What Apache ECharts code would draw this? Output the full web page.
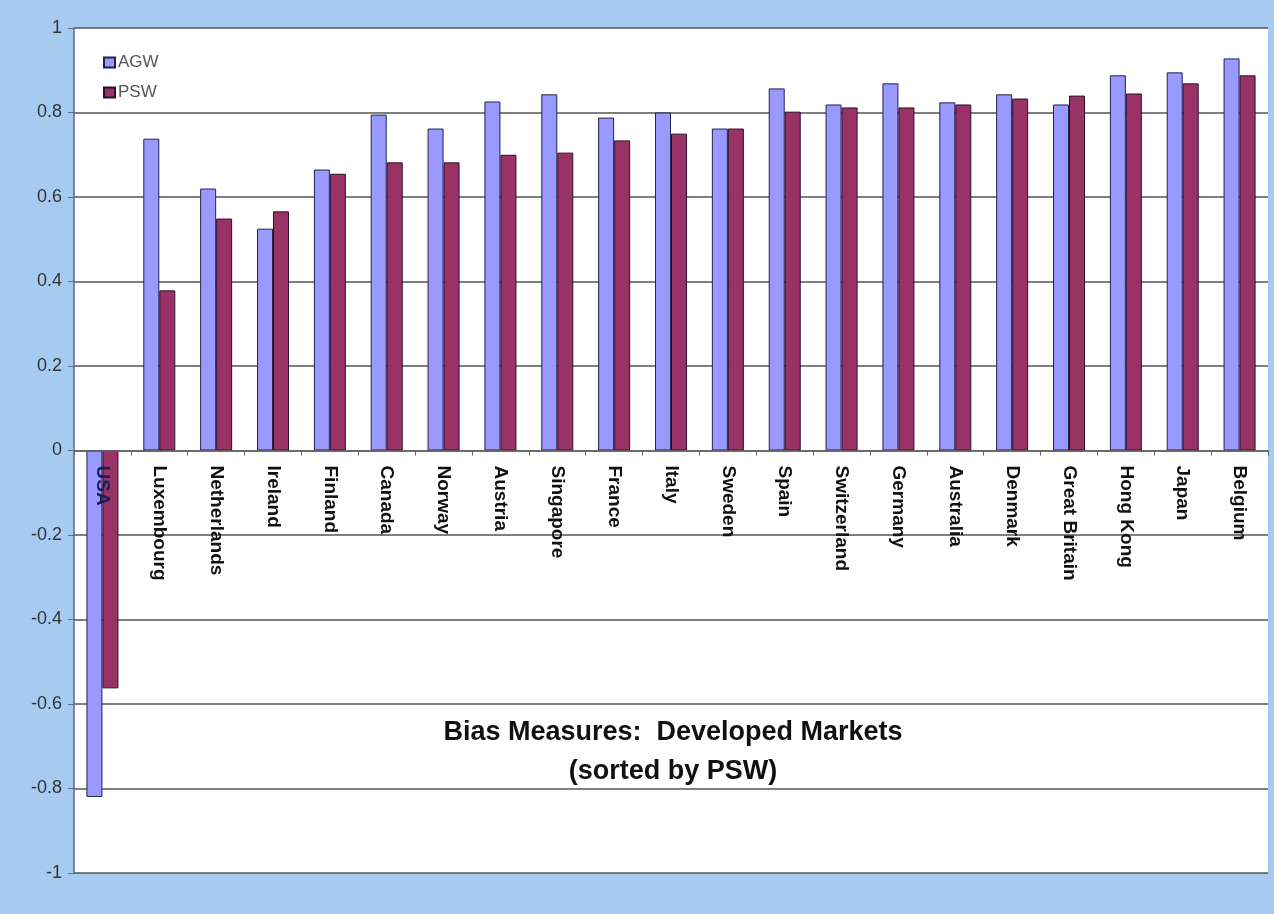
<!DOCTYPE html>
<html>
<head>
<meta charset="utf-8">
<script src="https://cdn.jsdelivr.net/npm/echarts@6/dist/echarts.min.js"></script>
<style>
html,body{margin:0;padding:0;background:#A6CAF0;}
#chart{width:1274px;height:914px;}
</style>
</head>
<body>
<div id="chart"></div>
<script>
var categories = ["USA","Luxembourg","Netherlands","Ireland","Finland","Canada","Norway","Austria","Singapore","France","Italy","Sweden","Spain","Switzerland","Germany","Australia","Denmark","Great Britain","Hong Kong","Japan","Belgium"];
var agw = [-0.82,0.738,0.62,0.525,0.665,0.795,0.762,0.826,0.843,0.788,0.80,0.762,0.857,0.819,0.869,0.824,0.843,0.819,0.888,0.895,0.928];
var psw = [-0.563,0.379,0.549,0.566,0.655,0.682,0.682,0.70,0.705,0.734,0.75,0.762,0.802,0.812,0.812,0.819,0.833,0.840,0.845,0.869,0.888];
var yTicks = {min:-1, max:1, interval:0.2};

var gridTop = 28, gridBottom = 41, H = 914;
var plotH = H - gridTop - gridBottom;
var zeroOffset = -plotH * (0 - yTicks.min) / (yTicks.max - yTicks.min);

var chart = echarts.init(document.getElementById('chart'));
chart.setOption({
  backgroundColor:'#A6CAF0',
  animation:false,
  title:{
    text:'Bias Measures:  Developed Markets\n(sorted by PSW)',
    left:668, top:708, textAlign:'center',
    textStyle:{fontFamily:'Liberation Sans, Arial', fontSize:27, fontWeight:'bold', color:'#111', lineHeight:39}
  },
  legend:{
    orient:'vertical', left:98, top:49, itemWidth:11, itemHeight:10, itemGap:13,
    icon:'rect',
    textStyle:{fontFamily:'Liberation Sans, Arial', fontSize:17, color:'#555', padding:[0,0,0,-2]},
    data:['AGW','PSW']
  },
  grid:{left:74, right:6, top:gridTop, bottom:gridBottom, show:true, backgroundColor:'#fff', borderWidth:0,
        containLabel:false, outerBoundsMode:'none'},
  xAxis:{
    type:'category', data:categories, position:'bottom', offset:zeroOffset, z:10,
    axisLine:{onZero:false, lineStyle:{color:'#666', width:1.5}},
    axisTick:{show:true, alignWithLabel:false, length:5, lineStyle:{color:'#666'}},
    axisLabel:{rotate:-90, interval:0, margin:15, fontFamily:'Liberation Sans, Arial', fontSize:19, fontWeight:'bold', color:'#111',
      formatter:function(v){return v==='USA' ? '{usa|'+v+'}' : v;},
      rich:{usa:{fontFamily:'Liberation Sans, Arial', fontSize:19, fontWeight:'bold', color:'#1c1c5a'}}}
  },
  yAxis:{
    type:'value', min:yTicks.min, max:yTicks.max, interval:yTicks.interval,
    axisLine:{show:true, lineStyle:{color:'#5a6a8a', width:1.5}},
    axisTick:{show:true, length:6, lineStyle:{color:'#5a6a8a'}},
    axisLabel:{fontFamily:'Liberation Sans, Arial', fontSize:18, color:'#333', margin:12,
      formatter:function(v){return String(Math.round(v*10)/10);}},
    splitLine:{show:true, lineStyle:{color:'#555', width:1.5}}
  },
  series:[
    {name:'AGW', type:'bar', data:agw, barWidth:16, barGap:'0%',
      itemStyle:{color:'#9999FF', borderColor:'#22224a', borderWidth:1}},
    {name:'PSW', type:'bar', data:psw, barWidth:16, barGap:'0%',
      itemStyle:{color:'#993366', borderColor:'#2a1030', borderWidth:1}}
  ]
});
</script>
</body>
</html>
